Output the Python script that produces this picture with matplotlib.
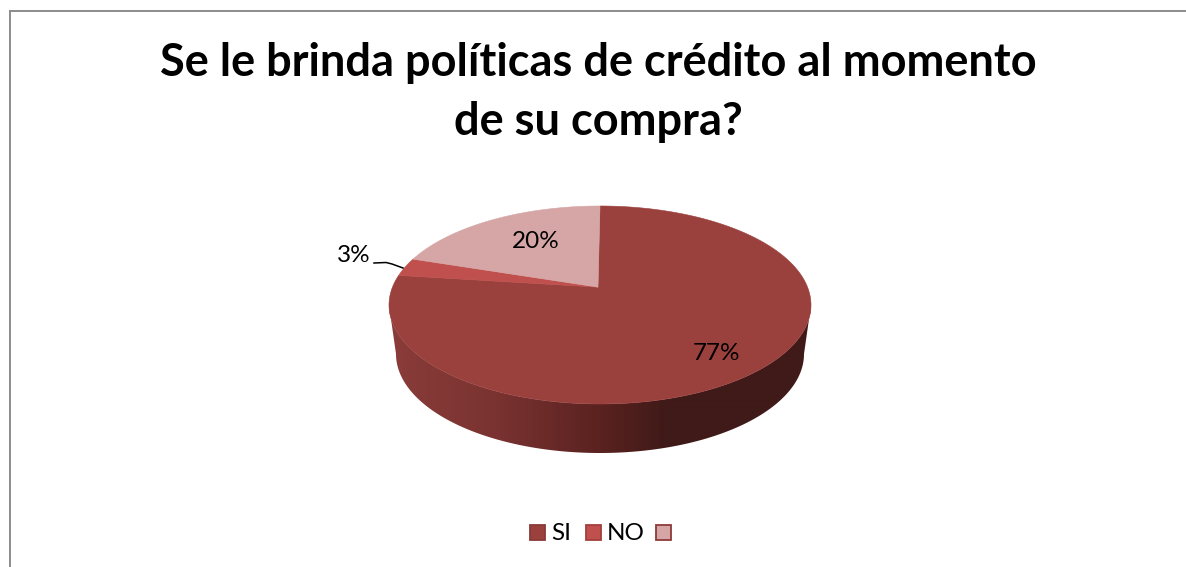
import numpy as np
import matplotlib.pyplot as plt
from matplotlib.patches import Polygon, Rectangle
from matplotlib.colors import to_rgb, LinearSegmentedColormap

plt.rcParams['font.family'] = ['Lato', 'DejaVu Sans']

labels = ["SI", "NO", ""]
values = [77, 3, 20]
pct_labels = ["77%", "3%", "20%"]
colors = ["#9A403D", "#C0504D", "#D5A6A5"]
edge_colors = ["#8A3A37", "#A23F3C", "#8E3A38"]
side_pos = [0, 0.25, 0.5, 0.66, 1]
side_stops = ["#8A3C39", "#7A3331", "#5A2220", "#3F1A18", "#3F1A18"]

fig = plt.figure(figsize=(11.86, 5.67), dpi=100)
ax = fig.add_axes([0, 0, 1, 1])
ax.set_xlim(0, 1186)
ax.set_ylim(567, 0)
ax.axis('off')

# frame
ax.plot([10, 10], [567, 11], color="#8C8C8C", lw=1.4)
ax.plot([10, 1186], [11, 11], color="#8C8C8C", lw=1.4)

ax.text(598, 63, "Se le brinda políticas de crédito al momento", ha='center', va='center',
        fontsize=32.5, fontweight='bold', color='black')
ax.text(598, 122, "de su compra?", ha='center', va='center',
        fontsize=32.5, fontweight='bold', color='black')

cx, cy, rx, ry, depth = 600, 305, 211, 99, 49
low_rx = 204      # bottom rim is a bit narrower than the top
apex_off = 0.18   # the tilt moves the pie centre up inside the ellipse


def rim(frac):
    # point of the rim for a share of the circle, clockwise from 12 o'clock
    a = np.asarray(frac) * 2 * np.pi
    x, y = np.sin(a), np.cos(a)
    d = 1 + apex_off * y
    return cx + rx * x * np.sqrt(1 - apex_off ** 2) / d, cy - ry * (y + apex_off) / d


apex = (cx - 2, cy - ry * apex_off)

# side wall
a = np.linspace(np.pi / 2, 3 * np.pi / 2, 300)
top_x = cx + rx * np.sin(a)
top_y = cy - ry * np.cos(a)
low_x = cx + low_rx * np.sin(a)
low_y = cy + depth - ry * np.cos(a)
wall = list(zip(top_x, top_y)) + list(zip(low_x[::-1], low_y[::-1]))
wall_patch = Polygon(wall, closed=True, fc='none', ec='none')
ax.add_patch(wall_patch)
cmap = LinearSegmentedColormap.from_list("wall", list(zip(side_pos, [to_rgb(c) for c in side_stops])))
im = ax.imshow(np.linspace(0, 1, 422).reshape(1, -1), cmap=cmap, aspect='auto',
               extent=[cx - rx, cx + rx, cy + ry + depth, cy], interpolation='bilinear')
im.set_clip_path(wall_patch)
ax.set_xlim(0, 1186)
ax.set_ylim(567, 0)

# top wedges
start = 0.0
for v, c in zip(values, colors):
    fr = np.linspace(start, start + v / 100, 240)
    rx_pts, ry_pts = rim(fr)
    ax.add_patch(Polygon([apex] + list(zip(rx_pts, ry_pts)), closed=True, fc=c, ec=c, lw=0.4))
    start += v / 100

ax.text(717, 353, pct_labels[0], ha='center', va='center', fontsize=17.5, color='black')
ax.text(536, 241, pct_labels[2], ha='center', va='center', fontsize=17.5, color='black')
ax.text(354, 255, pct_labels[1], ha='center', va='center', fontsize=17.5, color='black')
ax.plot([374, 386, 392, 403], [263, 262.5, 264, 268], color='black', lw=1.1)

# legend
lx = [530, 586, 656]
tx = [551, 607]
for x, c, e in zip(lx, colors, edge_colors):
    ax.add_patch(Rectangle((x, 525), 15, 15, fc=c, ec=e, lw=1.3))
for x, s in zip(tx, labels[:2]):
    ax.text(x, 533, s, ha='left', va='center', fontsize=17.5, color='black')

fig.savefig("out.png", dpi=100)
